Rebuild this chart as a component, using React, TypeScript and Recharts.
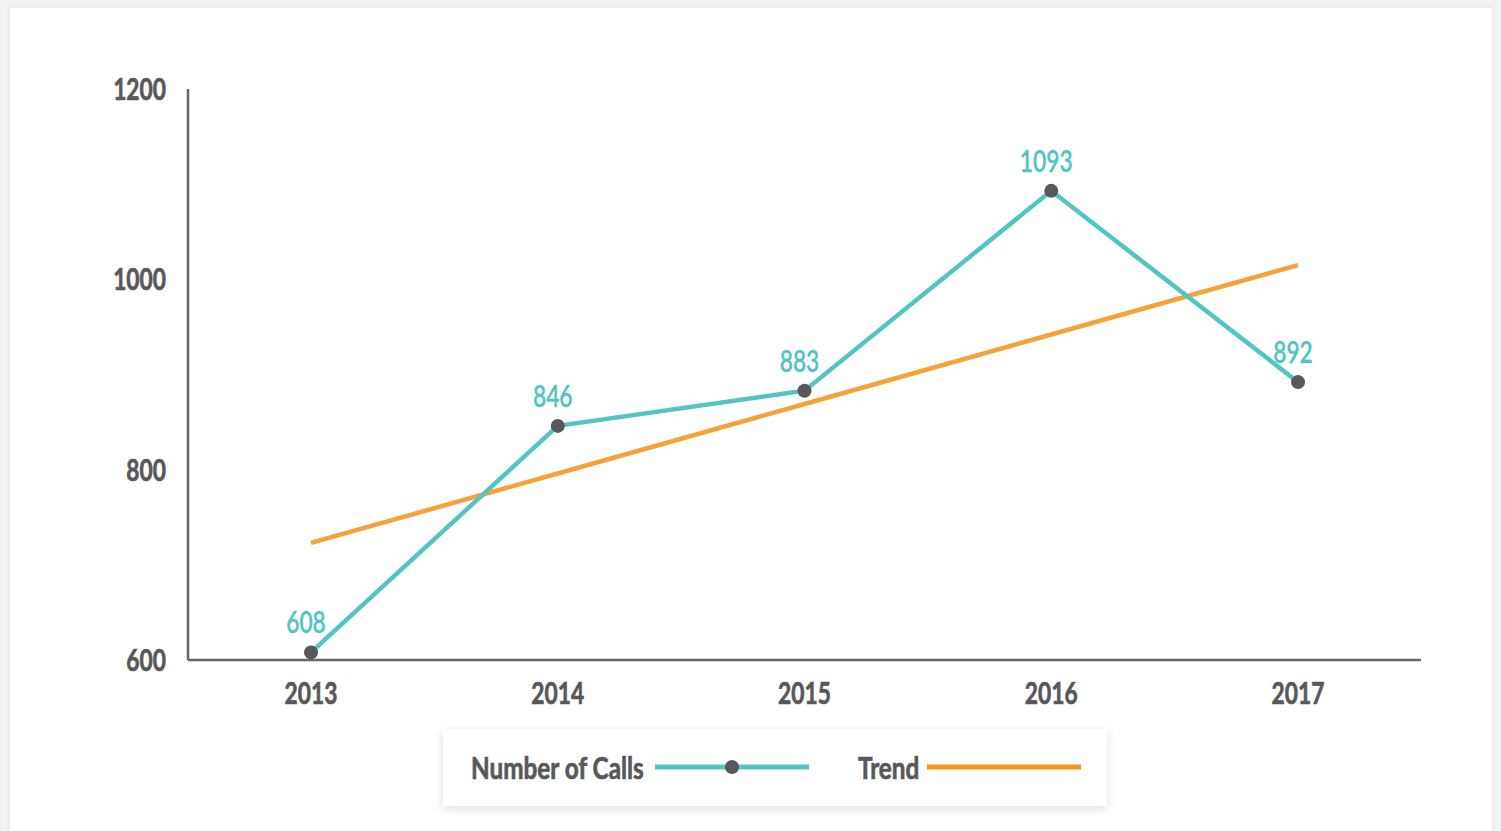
import React from 'react';
import { LineChart, Line, XAxis, YAxis } from 'recharts';

// values
const years = ['2013', '2014', '2015', '2016', '2017'];
const calls = [608, 846, 883, 1093, 892];
const trend = [723, 796, 869, 942, 1015];
const yTicks = [600, 800, 1000, 1200];

const TEAL = '#52c5c3';
const ORANGE = '#f7a238';
const GREY = '#58585a';
const FONT = 'Lato, "Open Sans", sans-serif';
const SQUEEZE = 0.76; // the original face is a condensed one

const data = years.map((year, i) => ({ year, calls: calls[i], trend: trend[i] }));

// text drawn at (x, y) and squeezed horizontally around its anchor
const NarrowText = ({ x, y, anchor, fill, weight, thicken, children }: any) => (
  <g transform={`translate(${x},${y}) scale(${SQUEEZE},1)`}>
    <text
      x={0}
      y={0}
      textAnchor={anchor}
      fill={fill}
      stroke={fill}
      strokeWidth={thicken}
      fontSize={30}
      fontFamily={FONT}
      fontWeight={weight}
    >
      {children}
    </text>
  </g>
);

const XTick = (props: any) => (
  <NarrowText x={props.x} y={props.y + 24} anchor="middle" fill={GREY} weight={700} thicken={0.7}>
    {props.payload.value}
  </NarrowText>
);

const YTick = (props: any) => (
  <NarrowText x={props.x} y={props.y + 11} anchor="end" fill={GREY} weight={700} thicken={0.7}>
    {props.payload.value}
  </NarrowText>
);

const CallsLabel = (props: any) => (
  <NarrowText x={props.x - 5} y={props.y - 19} anchor="middle" fill={TEAL} weight={600} thicken={0.3}>
    {props.value}
  </NarrowText>
);

const squeezed: React.CSSProperties = {
  position: 'absolute',
  top: 18,
  lineHeight: '40px',
  whiteSpace: 'nowrap',
  transform: 'scaleX(0.81)',
  transformOrigin: 'left center',
  WebkitTextStroke: '0.7px ' + GREY,
};

const LegendBox: React.FC = () => (
  <div
    style={{
      position: 'absolute',
      left: 443,
      top: 729,
      width: 664,
      height: 77,
      background: '#fff',
      boxShadow: '0 3px 10px rgba(0,0,0,0.13)',
      fontFamily: FONT,
      fontWeight: 700,
      fontSize: 30,
      color: GREY,
    }}
  >
    <span style={{ ...squeezed, left: 28 }}>Number of Calls</span>
    <svg style={{ position: 'absolute', left: 212, top: 28 }} width={154} height={20}>
      <line x1={0} y1={10} x2={154} y2={10} stroke={TEAL} strokeWidth={5} />
      <circle cx={77} cy={10} r={7} fill={GREY} />
    </svg>
    <span style={{ ...squeezed, left: 415 }}>Trend</span>
    <svg style={{ position: 'absolute', left: 484, top: 28 }} width={154} height={20}>
      <line x1={0} y1={10} x2={154} y2={10} stroke="#f7941d" strokeWidth={5} />
    </svg>
  </div>
);

export default function App() {
  return (
    <div
      style={{
        position: 'fixed',
        left: 0,
        top: 0,
        width: 1501,
        height: 831,
        background: '#f2f2f2',
        overflow: 'hidden',
      }}
    >
      <div
        style={{
          position: 'absolute',
          left: 10,
          top: 8,
          width: 1482,
          height: 840,
          background: '#fff',
          boxShadow: '0 0 6px rgba(0,0,0,0.06)',
        }}
      />
      <div style={{ position: 'absolute', left: 0, top: 0 }}>
        <LineChart
          width={1501}
          height={831}
          data={data}
          margin={{ top: 89, right: 80, bottom: 141, left: 128 }}
        >
          <XAxis
            dataKey="year"
            padding={{ left: 123, right: 123 }}
            axisLine={{ stroke: '#666', strokeWidth: 2.5 }}
            tickLine={false}
            tickSize={0}
            tickMargin={20}
            tick={<XTick />}
          />
          <YAxis
            width={60}
            domain={[600, 1200]}
            ticks={yTicks}
            interval={0}
            axisLine={{ stroke: '#666', strokeWidth: 2.5 }}
            tickLine={false}
            tickSize={0}
            tickMargin={22}
            tick={<YTick />}
          />
          <Line
            dataKey="trend"
            stroke={ORANGE}
            strokeWidth={4.5}
            dot={false}
            activeDot={false}
            isAnimationActive={false}
            type="linear"
          />
          <Line
            dataKey="calls"
            stroke={TEAL}
            strokeWidth={4.5}
            dot={{ r: 7, fill: GREY, stroke: 'none' }}
            activeDot={false}
            label={<CallsLabel />}
            isAnimationActive={false}
            type="linear"
          />
        </LineChart>
      </div>
      <LegendBox />
    </div>
  );
}
